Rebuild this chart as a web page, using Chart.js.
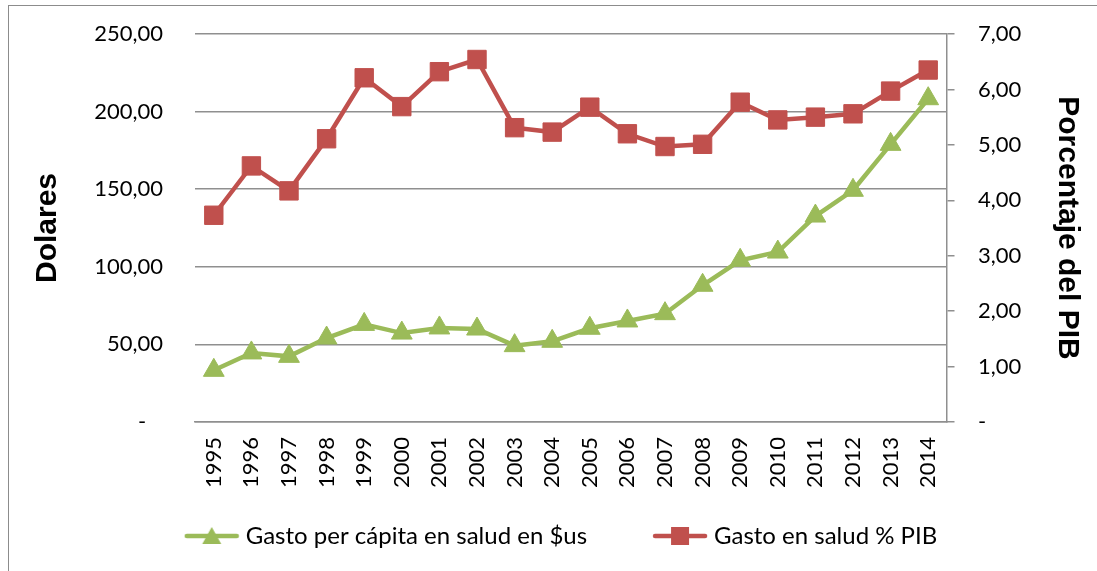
<!DOCTYPE html>
<html>
<head>
<meta charset="utf-8">
<script src="https://cdn.jsdelivr.net/npm/chart.js@4.4.0/dist/chart.umd.min.js"></script>
<style>
  html, body { margin: 0; padding: 0; background: #fff; overflow: hidden; }
  #frame { position: absolute; left: 8px; top: 5px; width: 1300px; height: 800px; border: 1px solid #8c8c8c; }
  #chart { position: absolute; left: 0; top: 0; }
</style>
</head>
<body>
<div id="frame"></div>
<canvas id="chart" width="1097" height="571"></canvas>
<script>
// Gasto en salud, 1995-2014
const years = ['1995', '1996', '1997', '1998', '1999', '2000', '2001', '2002', '2003', '2004',
               '2005', '2006', '2007', '2008', '2009', '2010', '2011', '2012', '2013', '2014'];

// Gasto per cápita en salud ($us) - eje izquierdo
const gastoPerCapita = [33.3, 44.5, 42.3, 54.1, 62.9, 57.3, 60.6, 59.9, 49.2, 52.0,
                        60.4, 65.1, 69.8, 88.1, 104.2, 109.5, 132.7, 149.3, 178.9, 208.3];

// Gasto en salud como % del PIB - eje derecho
const gastoPctPib = [3.73, 4.62, 4.17, 5.11, 6.21, 5.69, 6.32, 6.54, 5.31, 5.23,
                     5.68, 5.20, 4.97, 5.01, 5.77, 5.45, 5.50, 5.56, 5.97, 6.35];

const seriesNames = ['Gasto per cápita en salud en $us', 'Gasto en salud % PIB'];
const seriesColors = ['#9BBB59', '#C0504D'];

const dollarMax = 250, dollarStep = 50;
const pctMax = 7, pctStep = 1;

const FONT = 'Lato, "Open Sans", sans-serif';
const TITLE_FONT = '"Liberation Sans", Arial, sans-serif';
const GRID = '#8f8f8f';

function fmt(v) {
    return v.toFixed(2).replace('.', ',');
}

// legend icon: line with marker in the middle, like the spreadsheet legend
function makeIcon(color, shape) {
    const c = document.createElement('canvas');
    c.width = 56;
    c.height = 22;
    const ctx = c.getContext('2d');
    ctx.strokeStyle = color;
    ctx.lineWidth = 4.5;
    ctx.lineCap = 'round';
    ctx.beginPath();
    ctx.moveTo(3, 11);
    ctx.lineTo(53, 11);
    ctx.stroke();
    ctx.fillStyle = color;
    ctx.beginPath();
    if (shape === 'triangle') {
        ctx.moveTo(28, 2);
        ctx.lineTo(37.5, 19);
        ctx.lineTo(18.5, 19);
    } else {
        ctx.rect(19, 2, 18, 18);
    }
    ctx.closePath();
    ctx.fill();
    return c;
}
const legendIcons = [makeIcon(seriesColors[0], 'triangle'), makeIcon(seriesColors[1], 'rect')];

const chart = new Chart(document.getElementById('chart'), {
    type: 'line',
    data: {
        labels: years,
        datasets: [
            {
                label: seriesNames[0],
                data: gastoPerCapita,
                yAxisID: 'y',
                borderColor: seriesColors[0],
                backgroundColor: seriesColors[0],
                borderWidth: 4.5,
                pointStyle: 'triangle',
                pointRadius: 12,
                pointBorderWidth: 1,
                pointBorderColor: seriesColors[0],
                tension: 0
            },
            {
                label: seriesNames[1],
                data: gastoPctPib,
                yAxisID: 'y1',
                borderColor: seriesColors[1],
                backgroundColor: seriesColors[1],
                borderWidth: 4.5,
                pointStyle: 'rect',
                pointRadius: 13,
                pointBorderWidth: 1,
                pointBorderColor: seriesColors[1],
                tension: 0
            }
        ]
    },
    options: {
        responsive: false,
        animation: false,
        devicePixelRatio: 1,
        layout: { padding: { left: 30, right: 0, top: 34, bottom: 13 } },
        plugins: {
            tooltip: { enabled: false },
            legend: {
                position: 'bottom',
                labels: {
                    usePointStyle: true,
                    pointStyleWidth: 44,
                    padding: 34,
                    color: '#000',
                    font: { family: FONT, size: 24 },
                    generateLabels(chart) {
                        const items = Chart.defaults.plugins.legend.labels.generateLabels(chart);
                        items.forEach((it, i) => {
                            it.pointStyle = legendIcons[i];
                            // extra gap after the first entry
                            if (i === 0) it.text = it.text + '      ';
                        });
                        return items;
                    }
                }
            }
        },
        scales: {
            x: {
                offset: true,
                grid: { display: false, drawTicks: false },
                border: { display: true, color: GRID, width: 1.5 },
                ticks: {
                    color: '#000',
                    font: { family: FONT, size: 22 },
                    minRotation: 90,
                    maxRotation: 90,
                    autoSkip: false,
                    padding: 15
                },
                afterFit(scale) { scale.height = 68; }
            },
            y: {
                position: 'left',
                min: 0,
                max: dollarMax,
                // invisible tick marks keep the labels away from the plot
                grid: { color: GRID, lineWidth: 1.5, drawTicks: true, tickLength: 32, tickColor: 'rgba(0,0,0,0)' },
                border: { display: false },
                ticks: {
                    stepSize: dollarStep,
                    color: '#000',
                    font: { family: FONT, size: 22 },
                    padding: 0,
                    callback: (v) => v === 0 ? '-   ' : fmt(v)
                },
                title: {
                    display: true,
                    text: 'Dolares',
                    color: '#000',
                    font: { family: TITLE_FONT, size: 30, weight: 'bold' },
                    padding: { top: 0, bottom: 0 }
                },
                afterFit(scale) { scale.width = 165; }
            },
            y1: {
                position: 'right',
                min: 0,
                max: pctMax,
                grid: {
                    drawOnChartArea: false, drawTicks: true, tickLength: 31,
                    tickBorderDash: [7, 60], color: GRID, lineWidth: 1.5
                },
                border: { display: true, color: GRID, width: 1.5 },
                ticks: {
                    stepSize: pctStep,
                    color: '#000',
                    font: { family: FONT, size: 22 },
                    padding: 0,
                    callback: (v) => v === 0 ? '-' : fmt(v)
                },
                title: {
                    display: true,
                    text: 'Porcentaje del PIB',
                    color: '#000',
                    font: { family: TITLE_FONT, size: 30, weight: 'bold' },
                    padding: { top: 12, bottom: 0 }
                },
                afterFit(scale) { scale.width = 150; }
            }
        }
    }
});
</script>
</body>
</html>
